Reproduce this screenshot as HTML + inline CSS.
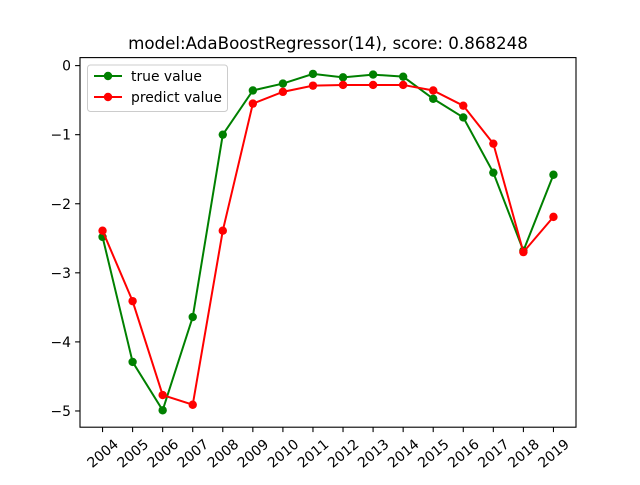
<!DOCTYPE html>
<html><head><meta charset="utf-8"><style>
body{margin:0;background:#fff}
svg text{font-family:"DejaVu Sans","Liberation Sans",sans-serif;font-size:13.9px;fill:#000}
</style></head><body>
<svg id="chart" width="640" height="480" viewBox="0 0 640 480">
<rect width="640" height="480" fill="#fff"/>
<text x="328" y="49" text-anchor="middle" style="font-size:16.7px">model:AdaBoostRegressor(14), score: 0.868248</text>
<g id="plot"></g>
<rect x="80" y="57.6" width="496" height="369.6" fill="none" stroke="#000" stroke-width="1.1"/>
<g>
<rect x="87.5" y="65" width="140" height="46.5" rx="3" fill="#fff" fill-opacity="0.8" stroke="#ccc"/>
<g>
<line x1="94" y1="76" x2="122" y2="76" stroke="green" stroke-width="2"/><circle cx="108" cy="76" r="4.2" fill="green"/>
<text x="131" y="81">true value</text></g>
<g>
<line x1="94" y1="97" x2="122" y2="97" stroke="red" stroke-width="2"/><circle cx="108" cy="97" r="4.2" fill="red"/>
<text x="131" y="102">predict value</text></g>
</g>
</svg>
<script>
const years=[2004,2005,2006,2007,2008,2009,2010,2011,2012,2013,2014,2015,2016,2017,2018,2019];
const trueValues=[-2.48,-4.29,-4.99,-3.64,-1.0,-0.36,-0.26,-0.12,-0.17,-0.13,-0.16,-0.48,-0.75,-1.55,-2.68,-1.58];
const predictValues=[-2.39,-3.41,-4.77,-4.91,-2.39,-0.55,-0.38,-0.29,-0.28,-0.28,-0.28,-0.36,-0.58,-1.13,-2.70,-2.19];
const yTicks=[0,-1,-2,-3,-4,-5];
const NS="http://www.w3.org/2000/svg";
const L=80,R=576,T=57.6,B=427.2;
const xmin=years[0]-0.05*(years[years.length-1]-years[0]),xmax=years[years.length-1]+0.05*(years[years.length-1]-years[0]);
const ymin=-5.235,ymax=0.116;
const xs=v=>L+(v-xmin)/(xmax-xmin)*(R-L);
const ys=v=>B-(v-ymin)/(ymax-ymin)*(B-T);
const g=document.getElementById('plot');
function mk(t,a){const e=document.createElementNS(NS,t);for(const k in a)e.setAttribute(k,a[k]);g.appendChild(e);return e;}
yTicks.forEach(v=>{
 const l=mk('line',{x1:L-4.9,x2:L,y1:ys(v),y2:ys(v),stroke:'#000','stroke-width':1.1});
 
 
 const t=mk('text',{x:L-9,y:ys(v)+5,'text-anchor':'end'});t.textContent=v===0?'0':'\u2212'+Math.abs(v);
 
 
});
years.forEach(v=>{
 const x=xs(v);
 const l=mk('line',{x1:x,x2:x,y1:B,y2:B+4.9,stroke:'#000','stroke-width':1.1});
 
 
 const cy=B+26;
 const t=mk('text',{x:x,y:cy+5,'text-anchor':'middle',transform:`rotate(-40 ${x} ${cy})`});t.textContent=v;
 
 
});
function series(vals,color,name){
 const p=mk('polyline',{points:vals.map((v,i)=>xs(years[i])+','+ys(v)).join(' '),fill:'none',stroke:color,'stroke-width':2});
 
 
 vals.forEach((v,i)=>{
  const c=mk('circle',{cx:xs(years[i]),cy:ys(v),r:4.2,fill:color});
  
  
 });
}
series(trueValues,'green','true-value');
series(predictValues,'red','predict-value');
</script>
</body></html>
